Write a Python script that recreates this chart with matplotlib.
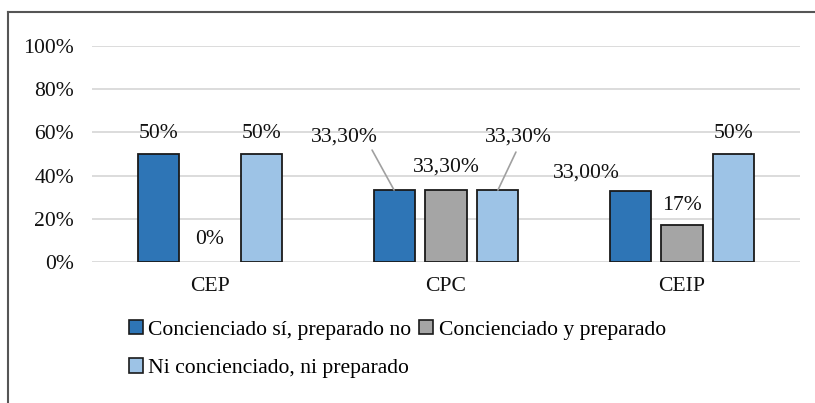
import matplotlib
matplotlib.use("Agg")
import matplotlib.pyplot as plt
from matplotlib.lines import Line2D
from matplotlib.patches import Patch
import numpy as np

plt.rcParams['font.family'] = ['Liberation Serif', 'DejaVu Serif']

categories = ["CEP", "CPC", "CEIP"]
series_names = ["Concienciado sí, preparado no", "Concienciado y preparado", "Ni concienciado, ni preparado"]
values_si_no = [0.50, 0.333, 0.33]
values_si_si = [0.00, 0.333, 0.17]
values_no_no = [0.50, 0.333, 0.50]
labels_si_no = ["50%", "33,30%", "33,00%"]
labels_si_si = ["0%", "33,30%", "17%"]
labels_no_no = ["50%", "33,30%", "50%"]
yticks = [0, 0.2, 0.4, 0.6, 0.8, 1.0]
ytick_labels = ["0%", "20%", "40%", "60%", "80%", "100%"]

colors = ["#2E75B6", "#A5A5A5", "#9DC3E6"]
FS = 15.6
TXT = "#111111"

W, H = 815, 403
fig = plt.figure(figsize=(W / 100, H / 100), dpi=100)
ax = fig.add_axes([92 / W, 1 - 262 / H, (800 - 92) / W, (262 - 46) / H])

x = np.arange(len(categories))
bw = 0.174
step = 0.22
all_vals = [values_si_no, values_si_si, values_no_no]
all_labels = [labels_si_no, labels_si_si, labels_no_no]
for i, (vals, c) in enumerate(zip(all_vals, colors)):
    lws = [1.3 if v > 0 else 0 for v in vals]
    ax.bar(x + (i - 1) * step, vals, width=bw, color=c, edgecolor="#1a1a1a",
           linewidth=lws, zorder=3, label=series_names[i])

ax.set_xlim(-0.5, len(categories) - 0.5)
ax.set_ylim(0, 1.0)
ax.set_yticks(yticks)
ax.set_yticklabels(ytick_labels)
ax.set_xticks(x)
ax.set_xticklabels(categories)
ax.tick_params(axis='both', length=0, labelsize=FS, colors=TXT)
ax.tick_params(axis='y', pad=13)
ax.tick_params(axis='x', pad=11)
ax.grid(axis='y', color="#D9D9D9", linewidth=1.3, zorder=0)
for s in ax.spines.values():
    s.set_visible(False)

# label offsets in pixels (dx, dy) relative to bar top center
offsets = {
    (0, 0): (0, 21), (1, 0): (0, 22), (2, 0): (0, 21),
    (0, 1): (-50, 53), (1, 1): (0, 23), (2, 1): (20, 53),
    (0, 2): (-44, 18), (1, 2): (0, 20), (2, 2): (0, 21),
}

def leader(i, j, dx, dy):
    bx = x[j] + (i - 1) * step
    by = all_vals[i][j]
    ax.annotate("", xy=(bx, by), xytext=(dx, dy), textcoords='offset pixels',
                arrowprops=dict(arrowstyle='-', color="#A0A0A0", lw=1.2,
                                shrinkA=0, shrinkB=0), annotation_clip=False)

for i in range(3):
    for j in range(3):
        bx = x[j] + (i - 1) * step
        by = all_vals[i][j]
        dx, dy = offsets[(i, j)]
        ax.annotate(all_labels[i][j], xy=(bx, by), xytext=(dx, dy),
                    textcoords='offset pixels', ha='center', va='center',
                    fontsize=FS, color=TXT, zorder=5, annotation_clip=False)

leader(0, 1, -22, 40)
leader(2, 1, 18, 38)

handles = [Patch(facecolor=colors[0], edgecolor="#1a1a1a", linewidth=1.2),
           Patch(facecolor=colors[2], edgecolor="#1a1a1a", linewidth=1.2),
           Patch(facecolor=colors[1], edgecolor="#1a1a1a", linewidth=1.2)]
leg_labels = [series_names[0], series_names[2], series_names[1]]
fig.legend(handles, leg_labels, ncol=2, loc='upper left',
           bbox_to_anchor=(129 / W, 1 - 320 / H), frameon=False,
           fontsize=FS, handlelength=0.65, handleheight=0.65,
           handletextpad=0.25, columnspacing=0.35, labelspacing=0.85,
           borderaxespad=0, borderpad=0)

# outer frame (top and left)
fig.add_artist(Line2D([8 / W, 1.0], [1 - 12 / H, 1 - 12 / H], transform=fig.transFigure,
                      color="#555555", linewidth=1.5))
fig.add_artist(Line2D([8 / W, 8 / W], [1 - 12 / H, 0], transform=fig.transFigure,
                      color="#555555", linewidth=1.5))

fig.savefig("out.png", dpi=100, facecolor="white")
